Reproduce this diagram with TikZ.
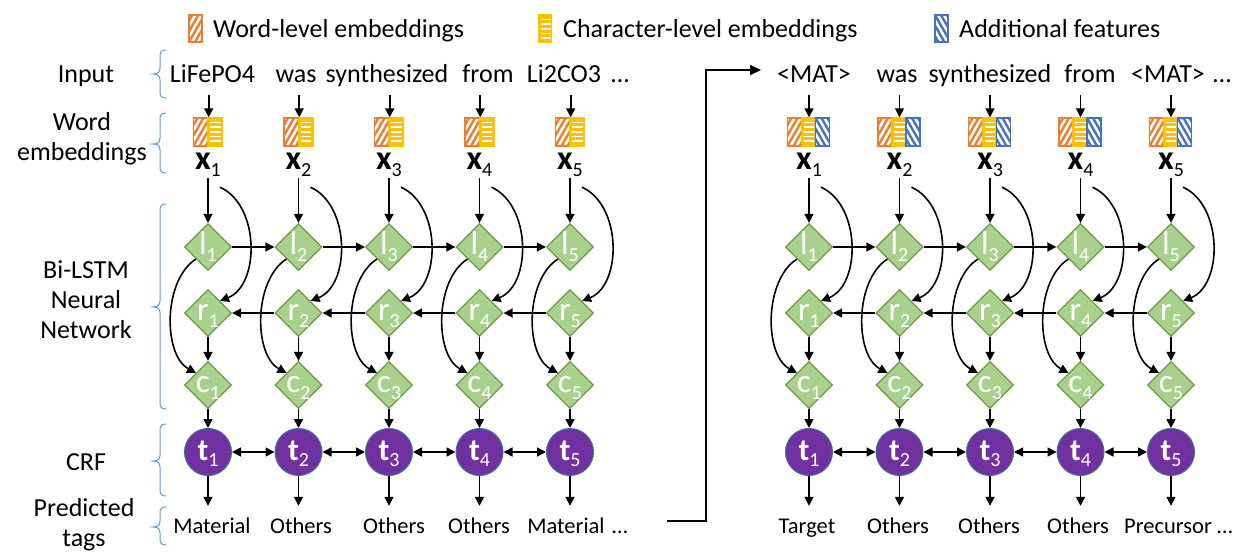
\documentclass[tikz,border=0pt]{standalone}
\usepackage{fontspec}
\setmainfont{Carlito}
\usetikzlibrary{shapes.geometric,arrows.meta,calc}
\definecolor{orangeC}{HTML}{ED7D31}
\definecolor{yellowC}{HTML}{FFC000}
\definecolor{blueC}{HTML}{4472C4}
\definecolor{greenF}{HTML}{A9D18E}
\definecolor{greenD}{HTML}{6B9B43}
\definecolor{purpC}{HTML}{7030A0}
\definecolor{purpD}{HTML}{41719C}
\definecolor{braceC}{HTML}{5B9BD5}
\newcommand\sbs[1]{\raisebox{-0.22em}{\fontsize{20}{20}\selectfont\mdseries #1}}
\newcommand\leftbr[3]{\draw[brc] (166,#1) .. controls (161.5,#1) and (160,#1+2) .. (160,#1+6) -- (160,#3-6) .. controls (160,#3-2) and (158,#3) .. (153,#3) .. controls (158,#3) and (160,#3+2) .. (160,#3+6) -- (160,#2-6) .. controls (160,#2-2) and (161.5,#2) .. (166,#2);}
\begin{document}
\begin{tikzpicture}[x=1pt,y=-1pt,
  txt/.style={inner sep=0pt, font=\fontsize{26}{30}\selectfont},
  lab/.style={txt, align=center},
  word/.style={font=\fontsize{26}{30}\selectfont, anchor=base, inner xsep=0pt, inner ysep=6pt, text depth=6pt},
  tagn/.style={font=\fontsize{22.5}{27}\selectfont, anchor=base, inner xsep=0pt, inner ysep=11pt, text height=16pt, text depth=5pt},
  xlab/.style={font=\fontsize{34}{34}\selectfont, anchor=base, inner xsep=0pt, inner ysep=1pt, text height=16pt, text depth=8pt},
  dia/.style={diamond, aspect=1, minimum width=47pt, minimum height=47pt, inner sep=0pt, fill=greenF, draw=greenD, line width=1.3pt, text=white, font=\fontsize{33}{33}\selectfont, text height=21pt, text depth=6pt},
  tnode/.style={circle, minimum size=47pt, inner sep=0pt, fill=purpC, draw=purpD, line width=1pt, text=white, font=\fontsize{31}{31}\selectfont\bfseries, text height=22pt, text depth=6pt},
  arr/.style={-{Triangle[length=9pt,width=9pt]}, line width=1.6pt},
  darr/.style={{Triangle[length=9pt,width=9pt]}-{Triangle[length=9pt,width=9pt]}, line width=1.6pt},
  brc/.style={draw=braceC, line width=1pt},
  segO/.style={draw=orangeC, line width=1.4pt, fill=white, minimum width=14.5pt, minimum height=28pt, inner sep=0pt,
    path picture={\foreach \k in {-3,...,3}{\draw[orangeC,line width=2.4pt] ($(path picture bounding box.south west)+(\k*6,0)$) -- ++(16,-28);}}},
  segY/.style={draw=yellowC, line width=1.4pt, fill=yellowC, minimum width=14.5pt, minimum height=28pt, inner sep=0pt,
    path picture={\foreach \k in {1,...,5}{\draw[white,line width=1.5pt] ($(path picture bounding box.north west)+(2.2,\k*4.6)$) -- ++(10.5,0);}}},
  segB/.style={draw=blueC, line width=1.4pt, fill=white, minimum width=14.5pt, minimum height=28pt, inner sep=0pt,
    path picture={\foreach \k in {-3,...,3}{\draw[blueC,line width=2.4pt] ($(path picture bounding box.north west)+(\k*6,0)$) -- ++(16,28);}}},
  bigarr/.style={-{Triangle[length=11pt,width=10pt]}, line width=2pt}
]
\useasboundingbox (0,0) rectangle (1240,552);

% legend
\node[segO, minimum width=13pt, minimum height=27pt] (lgO) at (195.5,28.5) {};
\node[txt, anchor=base west] (lgOt) at (213,37) {Word-level embeddings};
\node[segY, minimum width=13pt, minimum height=27pt] (lgY) at (545,28.5) {};
\node[txt, anchor=base west] (lgYt) at (563,37) {Character-level embeddings};
\node[segB, minimum width=13pt, minimum height=27pt] (lgB) at (941.5,28.5) {};
\node[txt, anchor=base west] (lgBt) at (959,37) {Additional features};

% left labels
\node[txt, anchor=base] (Lin) at (86,82) {Input};
\node[lab] (Lwe) at (82,139) {Word\\embeddings};
\node[lab] (Lbi) at (86,300) {Bi-LSTM\\Neural\\Network};
\node[txt, anchor=base] (Lcrf) at (86,470.5) {CRF};
\node[lab] (Lpt) at (84,525) {Predicted\\tags};

% braces
\leftbr{50}{98}{74}
\leftbr{113}{173}{144}
\leftbr{204}{409}{307}
\leftbr{424}{496}{461}
\leftbr{507}{545}{527}

% input words
\node[word] (aw1) at (212.5,82.5) {LiFePO4};
\node[word] (aw2) at (296,82.5) {was};
\node[word] (aw3) at (387,82.5) {synthesized};
\node[word] (aw4) at (488,82.5) {from};
\node[word] (aw5) at (564,82.5) {Li2CO3};
\node[word] (awd) at (620,82.5) {…};
\node[word] (bw1) at (814,82.5) {\textless MAT\textgreater};
\node[word] (bw2) at (897,82.5) {was};
\node[word] (bw3) at (990,82.5) {synthesized};
\node[word] (bw4) at (1090,82.5) {from};
\node[word] (bw5) at (1168,82.5) {\textless MAT\textgreater};
\node[word] (bwd) at (1222,82.5) {…};

% tags
\node[tagn] (atag1) at (212,533) {Material};
\node[tagn] (atag2) at (301,533) {Others};
\node[tagn] (atag3) at (394,533) {Others};
\node[tagn] (atag4) at (479,533) {Others};
\node[tagn] (atag5) at (566,533) {Material};
\node[tagn] (atagd) at (620,533) {…};
\node[tagn] (btag1) at (807,533) {Target};
\node[tagn] (btag2) at (898,533) {Others};
\node[tagn] (btag3) at (989,533) {Others};
\node[tagn] (btag4) at (1078,533) {Others};
\node[tagn] (btag5) at (1168,533) {Precursor};
\node[tagn] (btagd) at (1225,533) {…};

% left panel
\foreach \i/\cx in {1/208,2/298.5,3/389,4/479.5,5/570}{
  \node[segO] (aeO\i) at (\cx-7.25,132) {};
  \node[segY] (aeY\i) at (\cx+7.25,132) {};
  \node[xlab] (ax\i) at (\cx,169) {\textbf{x}\sbs{\i}};
  \node[dia] (al\i) at (\cx,247) {\makebox[0pt]{l\sbs{\i}}};
  \node[dia] (ar\i) at (\cx,313) {\makebox[0pt]{r\sbs{\i}}};
  \node[dia] (ac\i) at (\cx,385) {\makebox[0pt]{c\sbs{\i}}};
  \node[tnode] (at\i) at (\cx,452) {\makebox[0pt]{t\sbs{\i}}};
  \draw[arr] (aw\i.south -| aeO\i.north east) -- (aeO\i.north east);
  \draw[arr] (ax\i.south -| al\i.north) -- (al\i.north);
  \draw[arr] (ar\i.south) -- (ac\i.north);
  \draw[arr] (ac\i.south) -- (at\i.north);
  \draw[arr] (at\i.south) -- (at\i.south |- atag\i.north);
  \draw[arr] ($(ax\i.south)+(12,9)$) .. controls ($(ax\i.south)+(52,27)$) and ($(ar\i.north east)+(40,-16)$) .. (ar\i.north east);
  \draw[arr] (al\i.south west) .. controls ($(al\i.south west)+(-33,21)$) and ($(ac\i.north west)+(-33,-18)$) .. (ac\i.north west);
}
% right panel
\foreach \i/\cx in {1/809,2/899.5,3/990,4/1080.5,5/1171}{
  \node[segO, minimum width=14pt] (beO\i) at (\cx-14.5,132) {};
  \node[segY, minimum width=14pt] (beY\i) at (\cx-0.5,132) {};
  \node[segB, minimum width=14pt] (beB\i) at (\cx+13.5,132) {};
  \node[xlab] (bx\i) at (\cx,169) {\textbf{x}\sbs{\i}};
  \node[dia] (bl\i) at (\cx,247) {\makebox[0pt]{l\sbs{\i}}};
  \node[dia] (br\i) at (\cx,313) {\makebox[0pt]{r\sbs{\i}}};
  \node[dia] (bc\i) at (\cx,385) {\makebox[0pt]{c\sbs{\i}}};
  \node[tnode] (bt\i) at (\cx,452) {\makebox[0pt]{t\sbs{\i}}};
  \draw[arr] (bw\i.south -| bl\i.north) -- (bl\i.north |- beY\i.north);
  \draw[arr] (bx\i.south -| bl\i.north) -- (bl\i.north);
  \draw[arr] (br\i.south) -- (bc\i.north);
  \draw[arr] (bc\i.south) -- (bt\i.north);
  \draw[arr] (bt\i.south) -- (bt\i.south |- btag\i.north);
  \draw[arr] ($(bx\i.south)+(12,9)$) .. controls ($(bx\i.south)+(52,27)$) and ($(br\i.north east)+(40,-16)$) .. (br\i.north east);
  \draw[arr] (bl\i.south west) .. controls ($(bl\i.south west)+(-33,21)$) and ($(bc\i.north west)+(-33,-18)$) .. (bc\i.north west);
}
% horizontal connections
\foreach \i [evaluate=\i as \j using int(\i+1)] in {1,...,4}{
  \draw[arr] (al\i.east) -- (al\j.west);
  \draw[arr] (ar\j.west) -- (ar\i.east);
  \draw[darr] (at\i.east) -- (at\j.west);
  \draw[arr] (bl\i.east) -- (bl\j.west);
  \draw[arr] (br\j.west) -- (br\i.east);
  \draw[darr] (bt\i.east) -- (bt\j.west);
}
% big connector
\coordinate (k0) at (667,521);
\coordinate (k1) at (706,521);
\coordinate (k2) at (706,70);
\coordinate (k3) at (761,70);
\draw[bigarr] (k0) -- (k1) -- (k2) -- (k3);
\end{tikzpicture}
\end{document}
